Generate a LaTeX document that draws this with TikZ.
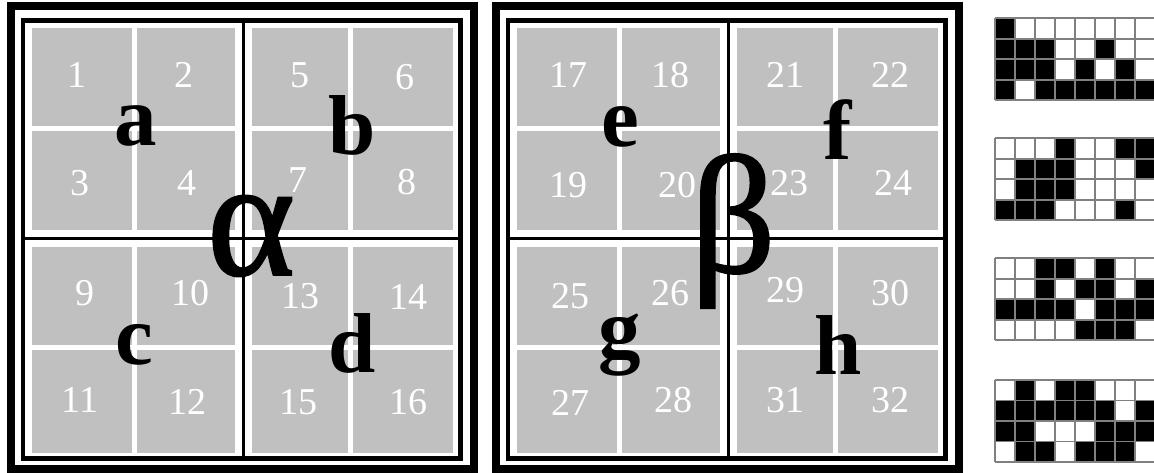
\documentclass[tikz,border=0pt]{standalone}
\usepackage{fontspec}
\setmainfont{Liberation Serif}
\newfontfamily\greekfont[FakeBold=1.2]{Liberation Serif}
\definecolor{silver}{RGB}{192,192,192}
\definecolor{gridgray}{RGB}{128,128,128}
\begin{document}
\begin{tikzpicture}[x=1pt,y=-1pt,
  num/.style={text=white,font=\fontsize{38}{38}\selectfont,inner sep=0pt},
  letter/.style={text=black,font=\fontsize{85}{85}\selectfont\bfseries,inner sep=0pt},
  greek/.style={text=black,font=\fontsize{168}{168}\greekfont,inner sep=0pt},
  outerframe/.style={draw=black,line width=8pt},
  innerframe/.style={draw=black,line width=4.5pt},
  cellline/.style={white,line width=5pt},
  midband/.style={white,line width=17pt},
  midline/.style={black,line width=3.5pt},
  pixgrid/.style={draw=gridgray,line width=1.8pt}]
\useasboundingbox (0,0) rectangle (1154,473);
\fill[white] (0,0) rectangle (1154,473);
% two framed boards
\foreach \dx in {0,485}{
  \begin{scope}[xshift=\dx pt]
    \draw[outerframe] (11,6) rectangle (474,469);
    \draw[innerframe] (23,20.5) rectangle (460.5,458.5);
    \fill[silver] (32,28) rectangle (453,453);
    \draw[cellline] (134.5,28) -- (134.5,453);
    \draw[cellline] (350.5,28) -- (350.5,453);
    \draw[cellline] (32,128.5) -- (453,128.5);
    \draw[cellline] (32,347.5) -- (453,347.5);
    \draw[midband] (243.5,28) -- (243.5,453);
    \draw[midband] (32,238.5) -- (453,238.5);
    \draw[midline] (243.5,20.5) -- (243.5,458.5);
    \draw[midline] (23,238.5) -- (460.5,238.5);
  \end{scope}
}
% numbers
\foreach \n/\x/\y in {1/77/75,2/184/75,5/300/75,6/405/77,
  3/80/183,4/187/183,7/298/180,8/407/182,
  9/85/293,10/190/293,13/300/296,14/408/297,
  11/80/400,12/187/402,15/298/402,16/408/402,
  17/568/75,18/670/75,21/785/75,22/890/75,
  19/568/185,20/677/185,23/789/183,24/893/183,
  25/570/296,26/670/293,29/785/290,30/890/293,
  27/570/403,28/673/400,31/785/400,32/890/400}
  \node[num] (n\n) at (\x,\y) {\n};
% letters
\node[letter] (la) at (136,126) {a};
\node[letter] (lb) at (352,125) {b};
\node[letter] (lc) at (134,345) {c};
\node[letter] (ld) at (352,343) {d};
\node[letter] (le) at (620,127) {e};
\node[letter] (lf) at (838,130) {f};
\node[letter] (lg) at (620,345) {g};
\node[letter] (lh) at (838,345) {h};
\node[greek] (alpha) at (251,236) {α};
\node[greek] (beta) at (733,231) {β};
% pixel patterns
\begin{scope}
\clip (0,0) rectangle (1154,473);
\foreach \c/\r in {0/0, 0/1,1/1,2/1,5/1, 0/2,1/2,2/2,4/2,6/2, 0/3,2/3,3/3,4/3,5/3,6/3,7/3}
  \fill[black] (995+20*\c,18.3+20.5*\r) rectangle ++(20,20.5);
\foreach \c/\r in {3/0,6/0,7/0, 1/1,2/1,3/1,7/1, 1/2,2/2,3/2, 0/3,1/3,2/3,6/3}
  \fill[black] (995+20*\c,138.3+20.5*\r) rectangle ++(20,20.5);
\foreach \c/\r in {2/0,3/0,5/0, 2/1,4/1,5/1,7/1, 0/2,1/2,2/2,3/2,5/2,6/2,7/2, 4/3,5/3,6/3}
  \fill[black] (995+20*\c,258.3+20.5*\r) rectangle ++(20,20.5);
\foreach \c/\r in {1/0,3/0,4/0, 0/1,1/1,2/1,3/1,4/1,5/1,7/1, 0/2,1/2,5/2,6/2,7/2, 1/3,2/3,4/3,5/3,6/3}
  \fill[black] (995+20*\c,380+20.5*\r) rectangle ++(20,20.5);
\foreach \gy in {18.3,138.3,258.3,380}{
  \foreach \i in {0,...,8}
    \draw[pixgrid] (995+20*\i,\gy) -- ++(0,82);
  \foreach \j in {0,...,4}
    \draw[pixgrid] (995,\gy+20.5*\j) -- ++(165,0);
}
\end{scope}
\end{tikzpicture}
\end{document}
